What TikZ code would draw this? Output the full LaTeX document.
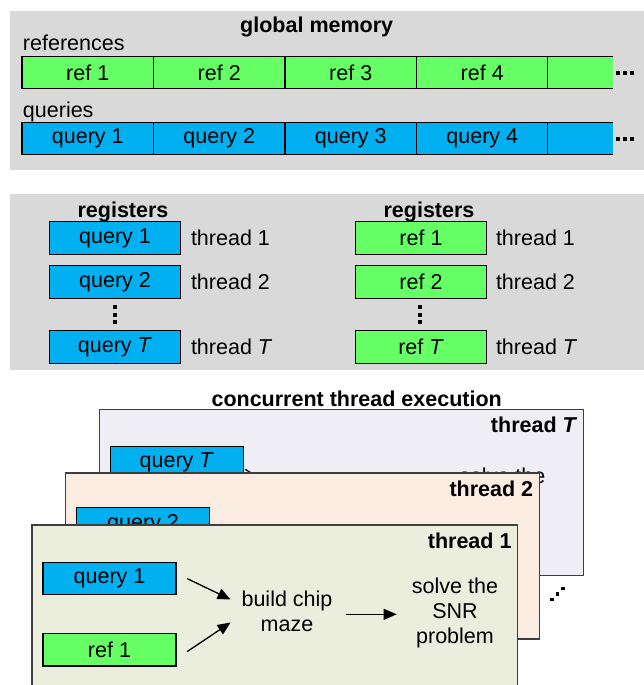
\documentclass[tikz,border=0pt]{standalone}
\usepackage{fontspec}
\setmainfont{Liberation Sans}
\usetikzlibrary{arrows.meta}
\definecolor{panelgray}{HTML}{D9D9D9}
\definecolor{refgreen}{HTML}{66FF66}
\definecolor{qblue}{HTML}{00B0F0}
\definecolor{thTfill}{HTML}{EFEEF4}
\definecolor{thBfill}{HTML}{FCEDE3}
\definecolor{thAfill}{HTML}{EBEEDD}
\definecolor{cardedge}{HTML}{3F3F3F}
\newcommand{\mainfs}{\fontsize{21.5}{25}\selectfont}
\tikzset{
 txt/.style={font=\mainfs, inner sep=0pt, outer sep=0pt},
 ttl/.style={font=\mainfs\bfseries, inner sep=0pt, outer sep=0pt},
 cell/.style={txt, draw=black, line width=1.2pt, minimum height=32.5pt, minimum width=131.5pt},
 refc/.style={cell, fill=refgreen},
 qryc/.style={cell, fill=qblue},
 card/.style={draw=cardedge, line width=1.4pt},
 arr/.style={line width=1.3pt, -{Triangle[length=13pt,width=11pt]}},
 dotsq/.style={fill=black, draw=none, minimum size=4pt, inner sep=0pt, outer sep=0pt},
}
% per-card offsets of the inner content (set before each card)
\def\tcdx{0}\def\tcdy{0}\def\tcgap{11}\def\tcqy{53.5}
\newcommand{\threadcard}[8]{%
 \begin{scope}[shift={(#2,#3)}]
 \filldraw[card, fill=#5] (0,0) rectangle (#4,166);
 \begin{scope}
 \clip (0,0) rectangle (#4,166);
 \node[qryc, minimum width=133pt] (#1q) at (77.5,\tcqy) {#7};
 \node[refc, minimum width=133pt] (#1r) at (77.5,124.7) {#8};
 \node[txt, align=center] (#1b) at ({255-\tcdx},{86.5+\tcdy}) {build chip\\maze};
 \node[txt, align=center] (#1s) at ({423-\tcdx},{87.5+\tcdy}) {solve the\\SNR\\problem};
 \draw[arr] ([shift={(\tcgap,\tcdy)}]#1q.east) -- ([shift={(-11,-12)}]#1b.west);
 \draw[arr] ([shift={(\tcgap,2)}]#1r.east) -- ([shift={(-11,11)}]#1b.west);
 \draw[arr] ([shift={(13.5,2.8)}]#1b.east) -- ([shift={(-15.3,1.8)}]#1s.west);
 \end{scope}
 \node[ttl, anchor=base east] (#1l) at ({#4-6},23) {#6};
 \end{scope}}
\begin{document}
\begin{tikzpicture}[x=1pt,y=-1pt]
\clip (0,0) rectangle (644,685);
% ---------- global memory panel
\fill[panelgray] (10,11) rectangle (644,170);
\node[ttl, anchor=base] (gmt) at (316.7,33) {global memory};
\node[txt, anchor=base west] (refl) at (23,50.5) {references};
\node[refc, anchor=west] (r1) at (22,72.5) {ref 1};
\node[refc, anchor=west] (r2) at (r1.east) {ref 2};
\node[refc, anchor=west] (r3) at (r2.east) {ref 3};
\node[refc, anchor=west] (r4) at (r3.east) {ref 4};
\node[refc, anchor=west, draw=none, minimum width=65pt] (r5) at (r4.east) {};
\draw[line width=1.2pt] (r5.north west) -- (r5.north east) (r5.south west) -- (r5.south east);
\node[dotsq] (rdA) at (617.5,73) {};
\node[dotsq] (rdB) at (624.5,73) {};
\node[dotsq] (rdC) at (631.5,73) {};
\node[txt, anchor=base west] (qryl) at (23,117) {queries};
\node[qryc, anchor=west] (q1) at (22,138.5) {query 1};
\node[qryc, anchor=west] (q2) at (q1.east) {query 2};
\node[qryc, anchor=west] (q3) at (q2.east) {query 3};
\node[qryc, anchor=west] (q4) at (q3.east) {query 4};
\node[qryc, anchor=west, draw=none, minimum width=65pt] (q5) at (q4.east) {};
\draw[line width=1.2pt] (q5.north west) -- (q5.north east) (q5.south west) -- (q5.south east);
\node[dotsq] (qdA) at (617.5,139) {};
\node[dotsq] (qdB) at (624.5,139) {};
\node[dotsq] (qdC) at (631.5,139) {};
% ---------- registers panel
\fill[panelgray] (10,194) rectangle (644,370);
\node[ttl, anchor=base] (regL) at (123,217) {registers};
\node[ttl, anchor=base] (regR) at (429,217) {registers};
\node[qryc] (lq1) at (115,238) {query 1};
\node[qryc] (lq2) at (115,282) {query 2};
\node[qryc] (lqT) at (115,347) {query \textit{T}};
\node[refc] (rr1) at (421,238) {ref 1};
\node[refc] (rr2) at (421,282) {ref 2};
\node[refc] (rrT) at (421,347) {ref \textit{T}};
\node[txt, anchor=west] (lt1) at (191,238) {thread 1};
\node[txt, anchor=west] (lt2) at (191,282) {thread 2};
\node[txt, anchor=west] (ltT) at (191,347) {thread \textit{T}};
\node[txt, anchor=west] (rt1) at (496,238) {thread 1};
\node[txt, anchor=west] (rt2) at (496,282) {thread 2};
\node[txt, anchor=west] (rtT) at (496,347) {thread \textit{T}};
\node[dotsq] (lvA) at (114.5,307) {};
\node[dotsq] (lvB) at (114.5,314.5) {};
\node[dotsq] (lvC) at (114.5,322) {};
\node[dotsq] (rvA) at (419.5,307) {};
\node[dotsq] (rvB) at (419.5,314.5) {};
\node[dotsq] (rvC) at (419.5,322) {};
% ---------- concurrent execution
\node[ttl, anchor=base] (cte) at (356.7,406) {concurrent thread execution};
\def\tcdx{20}\def\tcdy{6.5}\def\tcgap{2}\def\tcqy{53.5}
\threadcard{tT}{99.3}{409.3}{484}{thTfill}{thread \textit{T}}{query \textit{T}}{ref \textit{T}}
\def\tcdx{20}\def\tcdy{0}\def\tcgap{11}\def\tcqy{51}
\threadcard{tB}{65.6}{473}{473.6}{thBfill}{thread 2}{query 2}{ref 2}
\def\tcdx{0}\def\tcdy{0}\def\tcgap{11}\def\tcqy{53.5}
\threadcard{tA}{32}{525}{485.5}{thAfill}{thread 1}{query 1}{ref 1}
\node[dotsq, minimum size=3.5pt] (ddA) at (552,599.5) {};
\node[dotsq, minimum size=3.5pt] (ddB) at (557.5,594) {};
\node[dotsq, minimum size=3.5pt] (ddC) at (563,588.5) {};
\end{tikzpicture}
\end{document}
